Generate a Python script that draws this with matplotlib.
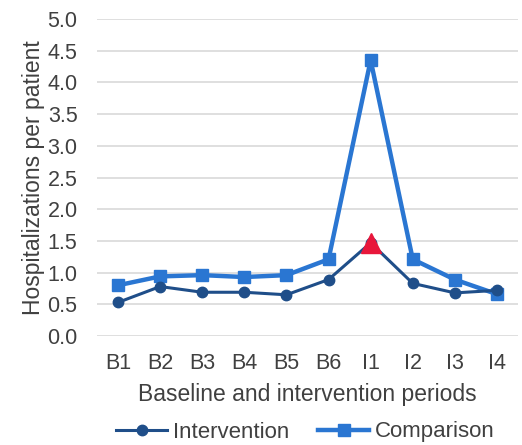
import numpy as np
import matplotlib
matplotlib.use('Agg')
import matplotlib.pyplot as plt

# ----------------------------------------------------------------------
# --- data

periods = ['B1', 'B2', 'B3', 'B4', 'B5', 'B6', 'I1', 'I2', 'I3', 'I4']
intervention = [0.53, 0.78, 0.69, 0.69, 0.65, 0.89, 1.47, 0.83, 0.68, 0.72]
comparison = [0.80, 0.94, 0.96, 0.93, 0.96, 1.21, 4.35, 1.21, 0.89, 0.66]
highlight = 'I1'

plt.rcParams['font.family'] = ['Liberation Sans', 'DejaVu Sans']

c_int = '#1F4E89'
c_cmp = '#2A76D2'
fs = 15.5

fig = plt.figure(figsize=(5.22, 4.45), dpi=100)
ax = fig.add_axes([97/522, 1-336/445, 421/522, (336-19)/445])

x = np.arange(len(periods))
ax.plot(x, comparison, color=c_cmp, lw=3.2, marker='s', ms=9, label='Comparison', zorder=3)
ax.plot(x, intervention, color=c_int, lw=2.2, marker='o', ms=7.5, label='Intervention', zorder=4)

i = periods.index(highlight)
ax.plot(x[i], intervention[i], marker='^', ms=14, color='#E8173B', ls='none', zorder=5)

ax.set_xlim(-0.5, len(periods)-0.5)
ax.set_ylim(0, 5)
yt = np.arange(0, 5.01, 0.5)
ax.set_yticks(yt)
ax.set_yticklabels([f'{v:.1f}' for v in yt])
ax.set_xticks(x)
ax.set_xticklabels(periods)
ax.tick_params(length=0, labelsize=fs, colors='#404040')
ax.tick_params(axis='y', pad=14)
ax.tick_params(axis='x', pad=12)
ax.yaxis.grid(True, color='#D9D9D9', lw=1.2)
ax.set_axisbelow(True)
for s in ax.spines.values():
    s.set_visible(False)

ax.set_xlabel('Baseline and intervention periods', fontsize=16.5, color='#404040', labelpad=7)
ax.set_ylabel('Hospitalizations per patient', fontsize=16.5, color='#404040', labelpad=2)

h, l = ax.get_legend_handles_labels()
leg = fig.legend(h[::-1], l[::-1], loc='center', bbox_to_anchor=(0.585, 1-432/445), ncol=2,
                 frameon=False, fontsize=16, handlelength=2.3, columnspacing=1.3,
                 handletextpad=0.25, labelcolor='#404040')

fig.savefig('out.png', dpi=100)
